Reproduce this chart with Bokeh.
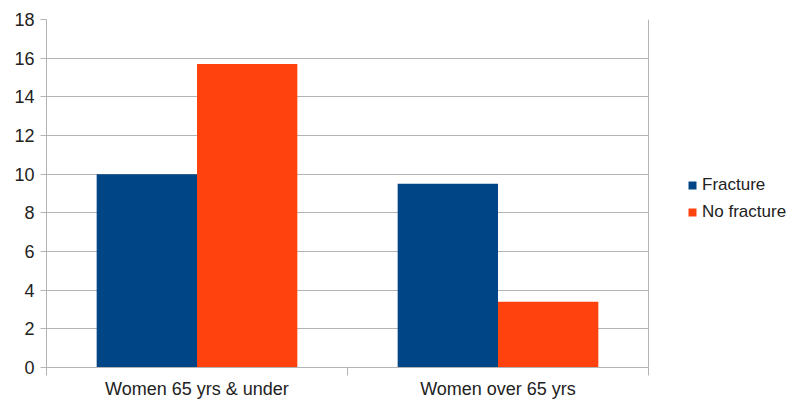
from bokeh.plotting import figure
from bokeh.models import (ColumnDataSource, Range1d, FixedTicker, Legend, LegendItem,
                          Span, BoxAnnotation)
from bokeh.transform import dodge
from bokeh.embed import file_html
from bokeh.resources import INLINE

categories = ["Women 65 yrs & under", "Women over 65 yrs"]
series_names = ["Fracture", "No fracture"]
fracture = [10, 9.5]
no_fracture = [15.7, 3.4]
y_ticks = [0, 2, 4, 6, 8, 10, 12, 14, 16, 18]

colors = ["#004586", "#ff420e"]
FONT = "Liberation Sans"
GRID = "#b3b3b3"
TXT = "#222222"

# layout: plot region 46..648 px, the frame continues to the right edge to host the legend
W, H = 792, 401
LEFT, RIGHT_PLOT = 46, 648
n = len(categories)
x_end = n * (W - LEFT) / (RIGHT_PLOT - LEFT)

pos = [i + 0.5 for i in range(n)]
source = ColumnDataSource(data=dict(pos=pos, cat=categories,
                                    fracture=fracture, no_fracture=no_fracture))

p = figure(width=W, height=H, output_backend="svg", toolbar_location=None,
           x_range=Range1d(0, x_end), y_range=Range1d(0, 18),
           min_border_left=LEFT, min_border_right=0, min_border_top=19,
           min_border_bottom=34)
p.background_fill_color = "white"
p.border_fill_color = "white"
p.outline_line_color = None

bw = 1 / 3
r1 = p.vbar(x=dodge("pos", -bw / 2, range=p.x_range), top="fracture", width=bw,
            source=source, fill_color=colors[0], line_color=None)
r2 = p.vbar(x=dodge("pos", bw / 2, range=p.x_range), top="no_fracture", width=bw,
            source=source, fill_color=colors[1], line_color=None)

# x axis
xa = p.xaxis[0]
xa.bounds = (0, n)
xa.ticker = FixedTicker(ticks=pos, minor_ticks=list(range(n + 1)))
xa.major_label_overrides = {pv: c for pv, c in zip(pos, categories)}
xa.major_tick_line_color = None
xa.major_tick_out = 8
xa.major_tick_in = 0
xa.minor_tick_out = 8
xa.minor_tick_in = 0
xa.minor_tick_line_color = GRID
xa.axis_line_color = GRID
xa.major_label_standoff = 3
xa.major_label_text_font = FONT
xa.major_label_text_font_size = "18px"
xa.major_label_text_color = TXT

# y axis
ya = p.yaxis[0]
ya.ticker = FixedTicker(ticks=y_ticks)
ya.major_tick_out = 6
ya.major_tick_in = 0
ya.minor_tick_line_color = None
ya.major_tick_line_color = GRID
ya.axis_line_color = GRID
ya.major_label_standoff = 6
ya.major_label_text_font = FONT
ya.major_label_text_font_size = "18px"
ya.major_label_text_color = TXT

p.xgrid.grid_line_color = None
p.ygrid.grid_line_color = GRID
p.ygrid.ticker = FixedTicker(ticks=y_ticks)

# blank out the area right of the plot region (legend area)
p.add_layout(BoxAnnotation(left=n, fill_color="white", fill_alpha=1.0,
                           line_color=None, level="underlay"))
p.add_layout(Span(location=n, dimension="height", line_color=GRID, line_width=1))

legend = Legend(items=[LegendItem(label=series_names[0], renderers=[r1]),
                       LegendItem(label=series_names[1], renderers=[r2])],
                location=(641, 145), orientation="vertical")
legend.padding = 0
legend.margin = 0
legend.border_line_color = None
legend.background_fill_alpha = 0
legend.glyph_width = 10
legend.glyph_height = 10
legend.label_standoff = 5
legend.label_height = 20
legend.spacing = 7
legend.label_text_font = FONT
legend.label_text_font_size = "17px"
legend.label_text_color = TXT
p.add_layout(legend, "center")

open("out.html", "w").write(file_html(p, INLINE))
